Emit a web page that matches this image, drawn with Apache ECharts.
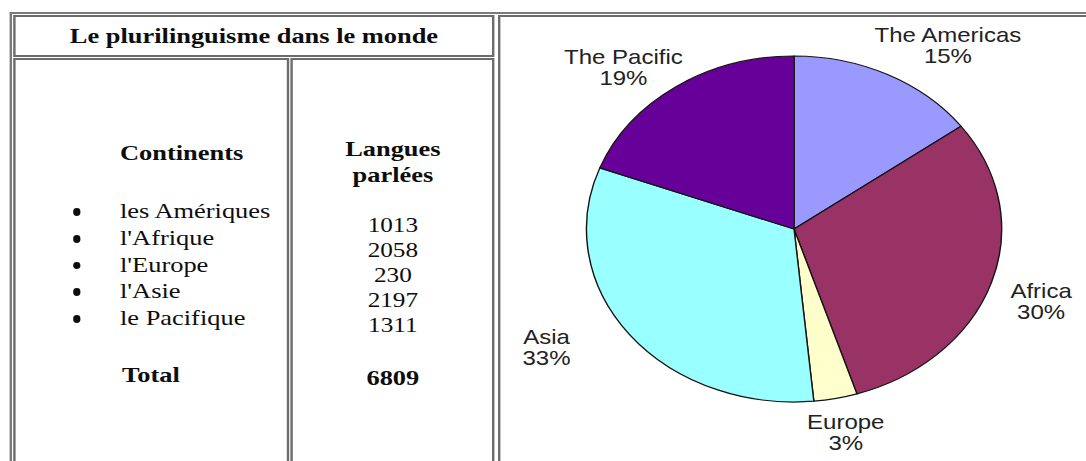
<!DOCTYPE html>
<html>
<head>
<meta charset="utf-8">
<script src="https://cdn.jsdelivr.net/npm/echarts@6/dist/echarts.min.js"></script>
<style>
html, body { margin:0; padding:0; width:1086px; height:461px; overflow:hidden; background:#fff; }
#stage { position:absolute; left:0; top:0; width:905px; height:461px; transform:scaleX(1.2); transform-origin:0 0;
  font-family:"Liberation Serif","Times New Roman",serif; color:#0d0d0d; }
.box { position:absolute; box-sizing:border-box; border:2px solid #6c6c6c; }
.abs { position:absolute; white-space:nowrap; }
.b { font-weight:bold; }
#title { left:10.8px; top:15px; width:401.7px; height:42px; font-size:22px; font-weight:bold; text-align:center; line-height:38px; }
#c1 { left:10.8px; top:58px; width:230.5px; height:460px; }
#c2 { left:242.3px; top:58px; width:170.2px; height:460px; }
#c3 { left:414.6px; top:15px; width:560px; height:500px; }
#outer { left:8.2px; top:12px; width:980px; height:520px; border-color:#7a7a7a; }
#hCont { left:100px; top:140px; font-size:22px; line-height:26px; }
#list { left:100px; top:198.3px; font-size:22px; }
.li { position:relative; height:26.67px; line-height:26.67px; white-space:nowrap; }
.bul { position:absolute; left:-39.3px; top:10px; width:6.6px; height:7.6px; border-radius:50%; background:#0d0d0d; }
#total { left:101.7px; top:362px; font-size:22px; line-height:26px; }
#hLang { left:242.3px; width:170.2px; top:136px; font-size:22px; line-height:26px; text-align:center; }
#nums { left:242.3px; width:170.2px; top:212.5px; font-size:21px; line-height:25px; text-align:center; }
#sum { left:242.3px; width:170.2px; top:364.5px; font-size:22px; line-height:25px; text-align:center; }
#pie { position:absolute; left:417px; top:17px; width:488px; height:444px; }
</style>
</head>
<body>
<div id="stage">
  <div class="box" id="outer"></div>
  <div class="box" id="title"></div>
  <div class="box" id="c1"></div>
  <div class="box" id="c2"></div>
  <div class="box" id="c3"></div>
  <div class="abs b" id="hCont"></div>
  <div class="abs" id="list"></div>
  <div class="abs b" id="total"></div>
  <div class="abs b" id="hLang"></div>
  <div class="abs" id="nums"></div>
  <div class="abs b" id="sum"></div>
  <div id="pie"></div>
</div>
<script>
// ---- data ----
var tableTitle = "Le plurilinguisme dans le monde";
var headContinents = "Continents";
var headLanguages = ["Langues", "parlées"];
var totalLabel = "Total";
var continentsFr = ["les Amériques", "l'Afrique", "l'Europe", "l'Asie", "le Pacifique"];
var continentsEn = ["The Americas", "Africa", "Europe", "Asia", "The Pacific"];
var languages = [1013, 2058, 230, 2197, 1311];
var slicePercents = [15, 30, 3, 33, 19];   // as printed on the chart

// ---- styles / layout (not data) ----
var sliceColors = ["#9999ff", "#993366", "#ffffcc", "#99ffff", "#660099"];
var labelNudge = [[18, -1], [7.5, 9.5], [0, 4], [-45, -5.5], [-10, 6.5]];

// ---- table ----
var total = languages.reduce(function (a, b) { return a + b; }, 0);
document.getElementById('title').textContent = tableTitle;
document.getElementById('hCont').textContent = headContinents;
document.getElementById('hLang').innerHTML = headLanguages.join('<br>');
document.getElementById('total').textContent = totalLabel;
document.getElementById('sum').textContent = String(total);
var list = document.getElementById('list');
continentsFr.forEach(function (n) {
  var row = document.createElement('div');
  row.className = 'li';
  var bul = document.createElement('span'); bul.className = 'bul';
  var txt = document.createElement('span'); txt.textContent = n;
  row.appendChild(bul); row.appendChild(txt);
  list.appendChild(row);
});
var nums = document.getElementById('nums');
languages.forEach(function (v) {
  var d = document.createElement('div'); d.textContent = String(v); nums.appendChild(d);
});

// ---- pie ----
var cx = 244.7, cy = 212, radius = 173, labelGap = 10;
var mids = [], acc = 0;
languages.forEach(function (v) { mids.push((acc + v / 2) / total * 2 * Math.PI); acc += v; });

var chart = echarts.init(document.getElementById('pie'), null, { renderer: 'svg' });
chart.setOption({
  animation: false,
  series: [{
    type: 'pie',
    center: [cx, cy],
    radius: radius,
    startAngle: 90,
    clockwise: true,
    silent: true,
    avoidLabelOverlap: false,
    data: continentsEn.map(function (n, i) {
      return { name: n, value: languages[i], itemStyle: { color: sliceColors[i] } };
    }),
    itemStyle: { borderColor: '#151515', borderWidth: 1.2 },
    label: {
      show: true,
      position: 'outside',
      formatter: function (p) { return p.name + '\n' + slicePercents[p.dataIndex] + '%'; },
      fontFamily: '"Liberation Sans", Arial, sans-serif',
      fontSize: 20,
      lineHeight: 21,
      color: '#222',
      align: 'center'
    },
    labelLine: { show: false },
    labelLayout: function (p) {
      var i = p.dataIndex, a = mids[i];
      var dx = Math.sin(a), dy = -Math.cos(a);
      var w = p.labelRect.width, h = p.labelRect.height;
      var R = radius + labelGap;
      return {
        x: cx + R * dx + dx * w / 2 + labelNudge[i][0],
        y: cy + R * dy + dy * h / 2 + labelNudge[i][1],
        align: 'center',
        verticalAlign: 'middle'
      };
    }
  }]
});
</script>
</body>
</html>
